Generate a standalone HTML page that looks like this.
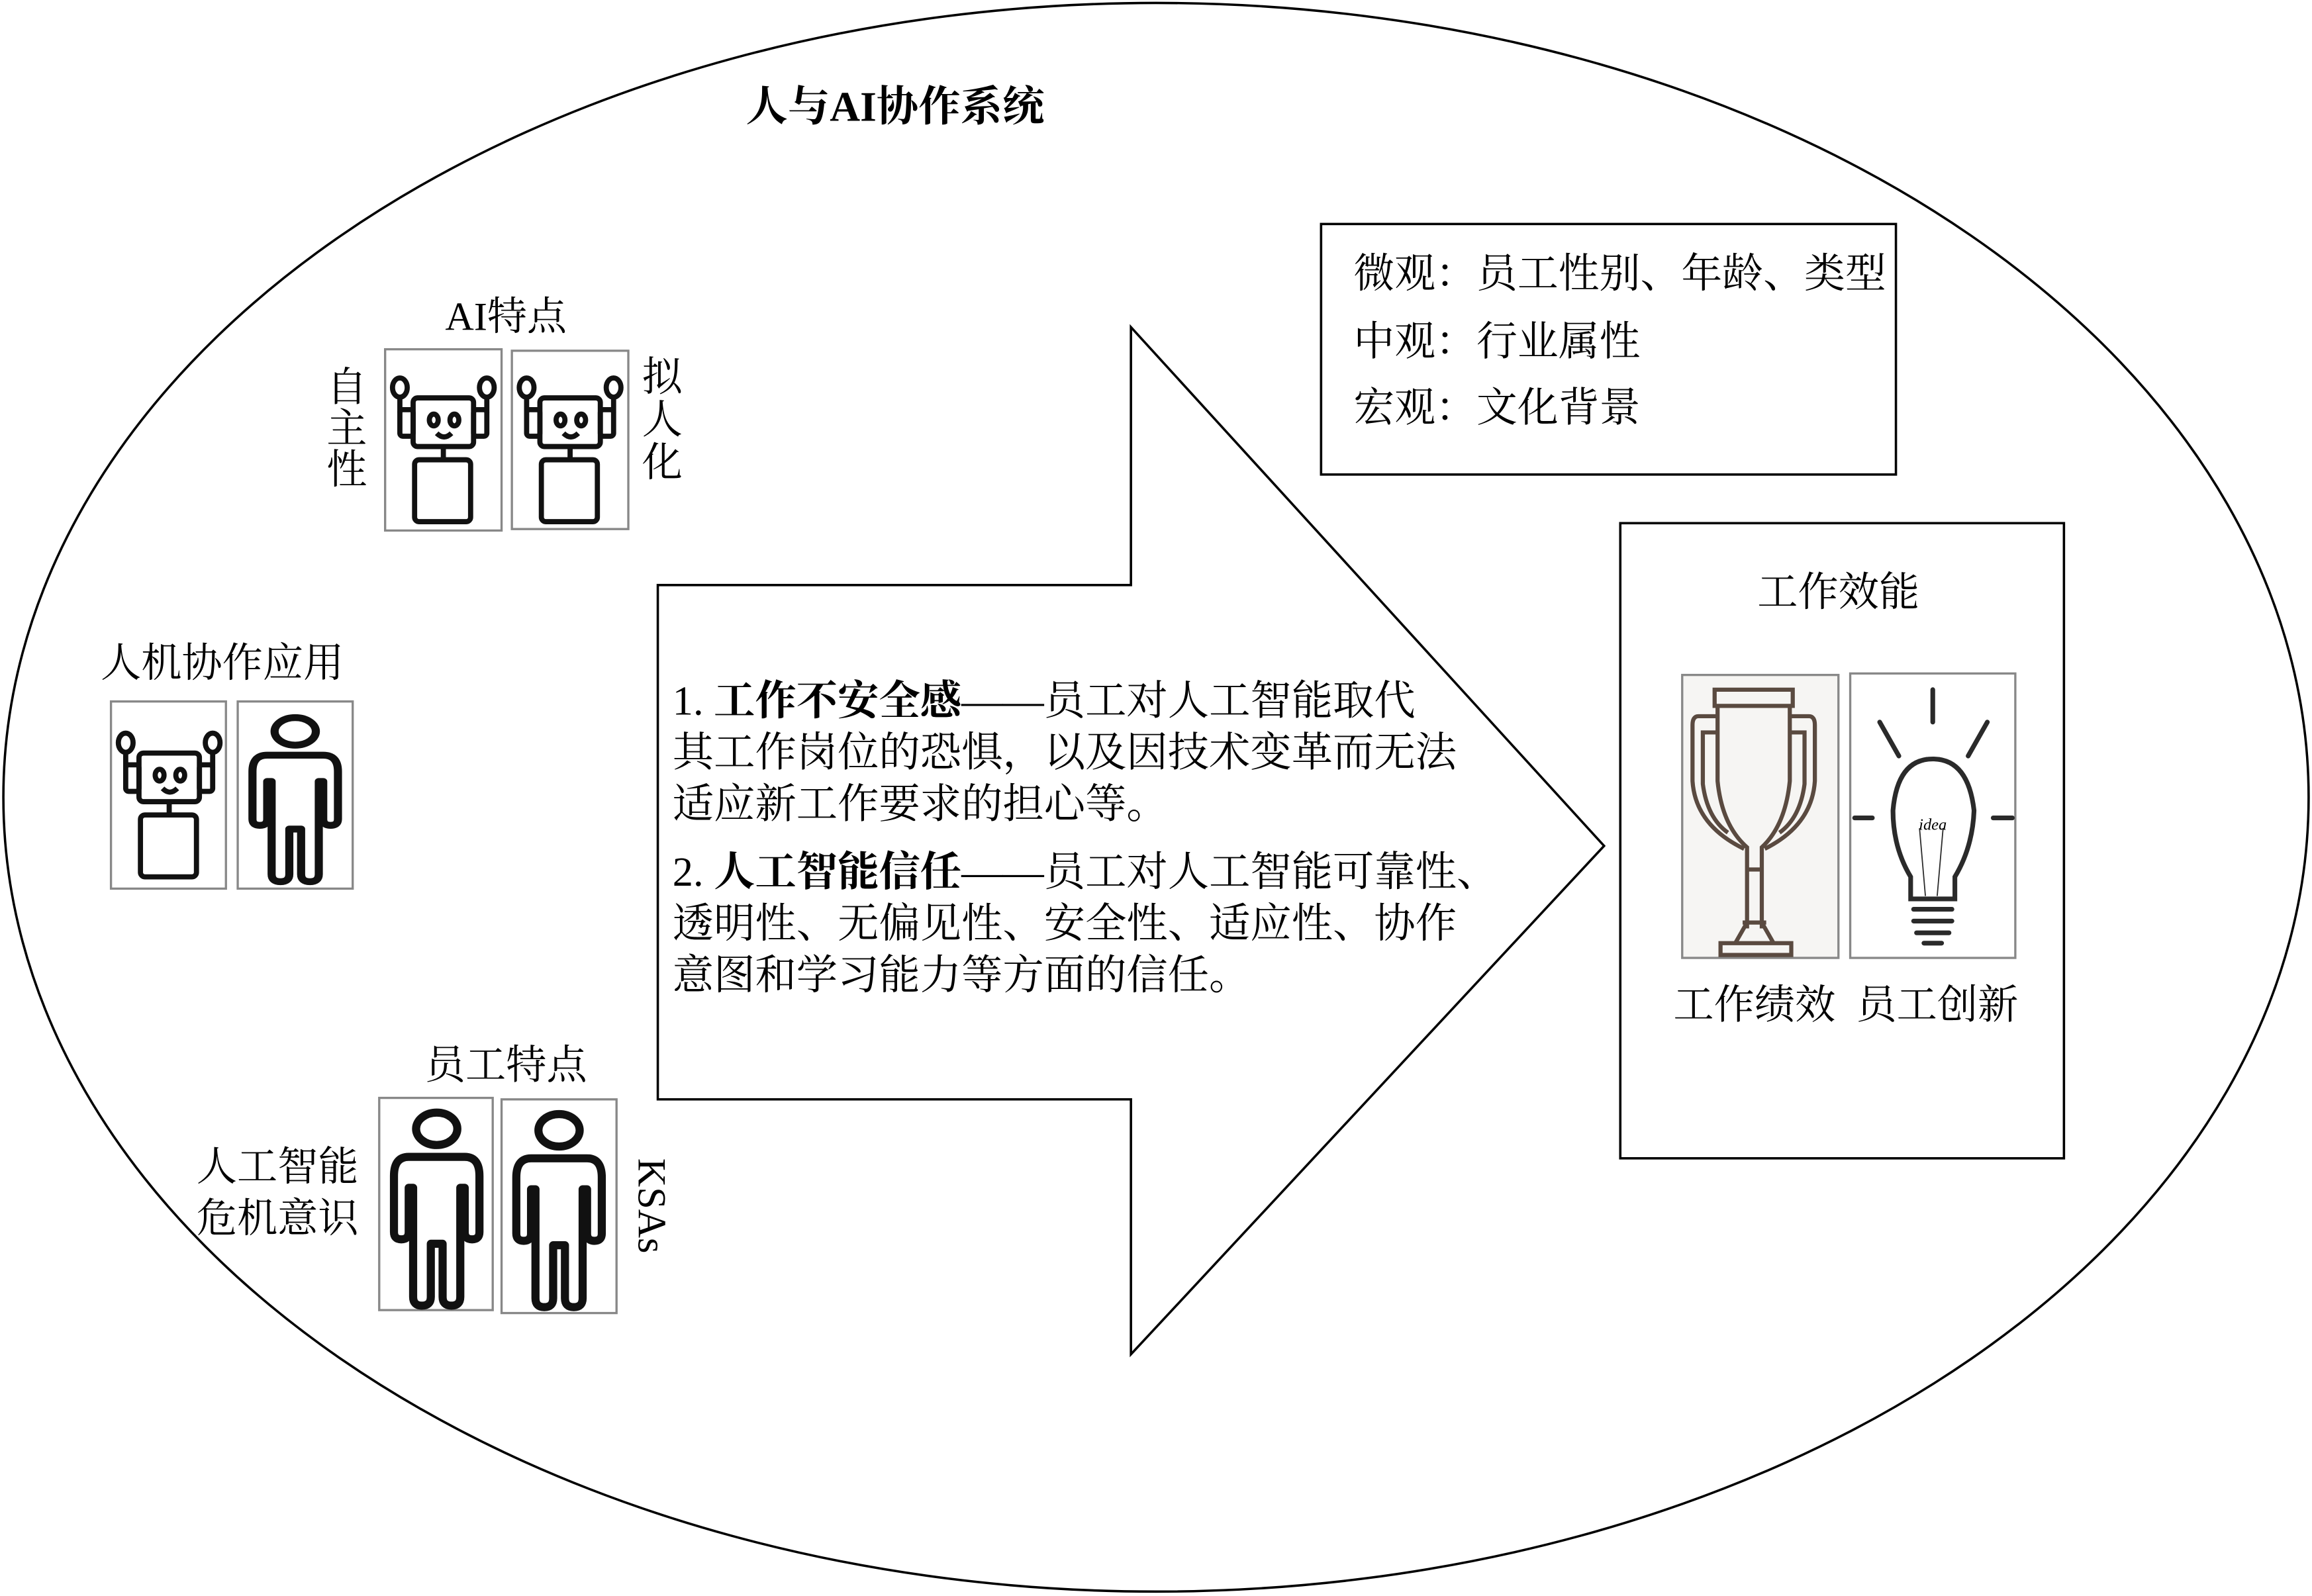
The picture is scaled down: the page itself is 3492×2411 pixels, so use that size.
<!DOCTYPE html>
<html><head><meta charset="utf-8"><style>
html,body{margin:0;padding:0;background:#fff;}
svg{display:block;}
text{font-family:"Liberation Serif","Noto Serif CJK SC","Noto Sans CJK SC",serif;fill:#000;}
</style></head><body>
<svg width="3492" height="2411" viewBox="0 0 1568 1083" xmlns="http://www.w3.org/2000/svg">
<defs>
<g id="robot" fill="none" stroke="#111" stroke-width="3.5" stroke-linejoin="round">
  <ellipse cx="10" cy="23" rx="5" ry="6.5"/>
  <ellipse cx="69" cy="23" rx="5" ry="6.5"/>
  <line x1="10" y1="29" x2="10" y2="40"/>
  <line x1="69" y1="29" x2="69" y2="40"/>
  <rect x="10" y="38" width="9" height="18" rx="2"/>
  <rect x="60" y="38" width="9" height="18" rx="2"/>
  <rect x="19" y="30" width="41" height="33" rx="3"/>
  <ellipse cx="33" cy="45" rx="3" ry="4"/>
  <ellipse cx="47" cy="45" rx="3" ry="4"/>
  <path d="M35 54 Q40 59 45 54"/>
  <line x1="39.5" y1="63" x2="39.5" y2="72"/>
  <rect x="20" y="72" width="38" height="42" rx="3"/>
</g>
<g id="human" fill="none" stroke="#111" stroke-width="5.5" stroke-linejoin="round" stroke-linecap="round">
  <ellipse cx="39" cy="18" rx="14" ry="11"/>
  <path d="M20 37 Q10 37 10 50 L10 88 Q10 93 15 93 Q20 93 20 88 L20 58 L23 58 L23 132 Q23 138 29 138 Q35 138 35 132 L35 96 L43 96 L43 132 Q43 138 49 138 Q55 138 55 132 L55 58 L58 58 L58 88 Q58 93 63 93 Q68 93 68 88 L68 50 Q68 37 58 37 Z"/>
</g>
</defs>

<ellipse cx="784" cy="541" rx="782" ry="539" fill="none" stroke="#000" stroke-width="1.6"/>
<text x="607" y="82" font-size="28.5" font-weight="bold" text-anchor="middle">人与AI协作系统</text>

<rect x="896" y="152" width="390" height="170" fill="none" stroke="#000" stroke-width="1.6"/>
<text x="918" y="195" font-size="27.8">微观：员工性别、年龄、类型</text>
<text x="918" y="241" font-size="27.8">中观：行业属性</text>
<text x="918" y="286" font-size="27.8">宏观：文化背景</text>

<rect x="1099" y="355" width="301" height="431" fill="none" stroke="#000" stroke-width="1.6"/>
<text x="1247" y="411" font-size="27.5" text-anchor="middle">工作效能</text>
<rect x="1141" y="458" width="106" height="192" fill="#f6f5f3" stroke="#888" stroke-width="1.5"/>
<rect x="1255" y="457" width="112" height="193" fill="#fff" stroke="#888" stroke-width="1.5"/>
<g fill="none" stroke="#5a4a40" stroke-width="2.8">
  <rect x="1163" y="468" width="53" height="11"/>
  <path d="M1165 479 L1165 530 Q1168 560 1185 575 L1185 630 M1214 479 L1214 530 Q1211 560 1195 575 L1195 630"/>
  <path d="M1165 486 L1152 486 Q1148 486 1148 492 L1148 530 Q1150 560 1183 576"/>
  <path d="M1214 486 L1227 486 Q1231 486 1231 492 L1231 530 Q1229 560 1197 576"/>
  <path d="M1165 497 L1155 497 L1155 532 Q1158 555 1172 565 M1214 497 L1224 497 L1224 532 Q1221 555 1207 565"/>
  <line x1="1185" y1="590" x2="1195" y2="590"/>
  <line x1="1182" y1="626" x2="1198" y2="626"/>
  <path d="M1185 626 L1177 640 M1195 626 L1203 640"/>
  <rect x="1167" y="640" width="48" height="8"/>
</g>
<g fill="none" stroke="#2a2a2a" stroke-width="3.2" stroke-linecap="round">
  <line x1="1311" y1="468" x2="1311" y2="490"/>
  <line x1="1275" y1="490" x2="1288" y2="513"/>
  <line x1="1348" y1="490" x2="1335" y2="513"/>
  <line x1="1258" y1="555" x2="1270" y2="555"/>
  <line x1="1352" y1="555" x2="1365" y2="555"/>
  <path d="M1311 515 Q1335 515 1339 550 Q1338 575 1326 595 L1326 610 L1296 610 L1296 595 Q1284 575 1284 550 Q1287 515 1311 515 Z"/>
  <line x1="1298" y1="617" x2="1324" y2="617"/>
  <line x1="1298" y1="625" x2="1324" y2="625"/>
  <line x1="1300" y1="633" x2="1322" y2="633"/>
  <line x1="1305" y1="640" x2="1317" y2="640"/>
</g>
<g fill="none" stroke="#2a2a2a" stroke-width="0.8">
  <path d="M1302 562 L1306 608 M1318 562 L1314 608"/>
</g>
<text x="1311" y="563" font-size="11" font-style="italic" text-anchor="middle">idea</text>
<text x="1190" y="691" font-size="27.5" text-anchor="middle">工作绩效</text>
<text x="1314" y="691" font-size="27.5" text-anchor="middle">员工创新</text>

<polygon points="446,397 767,397 767,222 1088,574 767,919 767,746 446,746" fill="#fff" stroke="#000" stroke-width="1.6"/>
<g font-size="28">
<text x="456" y="485">1. <tspan font-weight="bold">工作不安全感</tspan>——员工对人工智能取代</text>
<text x="456" y="520">其工作岗位的恐惧，以及因技术变革而无法</text>
<text x="456" y="555">适应新工作要求的担心等。</text>
<text x="456" y="601">2. <tspan font-weight="bold">人工智能信任</tspan>——员工对人工智能可靠性、</text>
<text x="456" y="636">透明性、无偏见性、安全性、适应性、协作</text>
<text x="456" y="671">意图和学习能力等方面的信任。</text>
</g>

<text x="343" y="224" font-size="27" text-anchor="middle">AI特点</text>
<rect x="261" y="237" width="79" height="123" fill="#fff" stroke="#888" stroke-width="1.5"/>
<rect x="347" y="238" width="79" height="121" fill="#fff" stroke="#888" stroke-width="1.5"/>
<use href="#robot" transform="translate(261,240)"/>
<use href="#robot" transform="translate(347,240)"/>
<g font-size="27.5" text-anchor="middle">
<text x="235" y="272">自</text><text x="235" y="300">主</text><text x="235" y="328">性</text>
<text x="449" y="265">拟</text><text x="449" y="294">人</text><text x="449" y="323">化</text>
</g>

<text x="68" y="459" font-size="27.5">人机协作应用</text>
<rect x="75" y="476" width="78" height="127" fill="#fff" stroke="#888" stroke-width="1.5"/>
<rect x="161" y="476" width="78" height="127" fill="#fff" stroke="#888" stroke-width="1.5"/>
<use href="#robot" transform="translate(75,481)"/>
<use href="#human" transform="translate(161,481) scale(1,0.85)"/>

<text x="343" y="732" font-size="27.5" text-anchor="middle">员工特点</text>
<rect x="257" y="745" width="77" height="144" fill="#fff" stroke="#888" stroke-width="1.5"/>
<rect x="340" y="746" width="78" height="145" fill="#fff" stroke="#888" stroke-width="1.5"/>
<use href="#human" transform="translate(257,748)"/>
<use href="#human" transform="translate(340,749)"/>
<text x="243" y="801" font-size="27.5" text-anchor="end">人工智能</text>
<text x="243" y="836" font-size="27.5" text-anchor="end">危机意识</text>
<text x="0" y="0" font-size="27" transform="translate(433,786) rotate(90)">KSAs</text>
</svg>
</body></html>
